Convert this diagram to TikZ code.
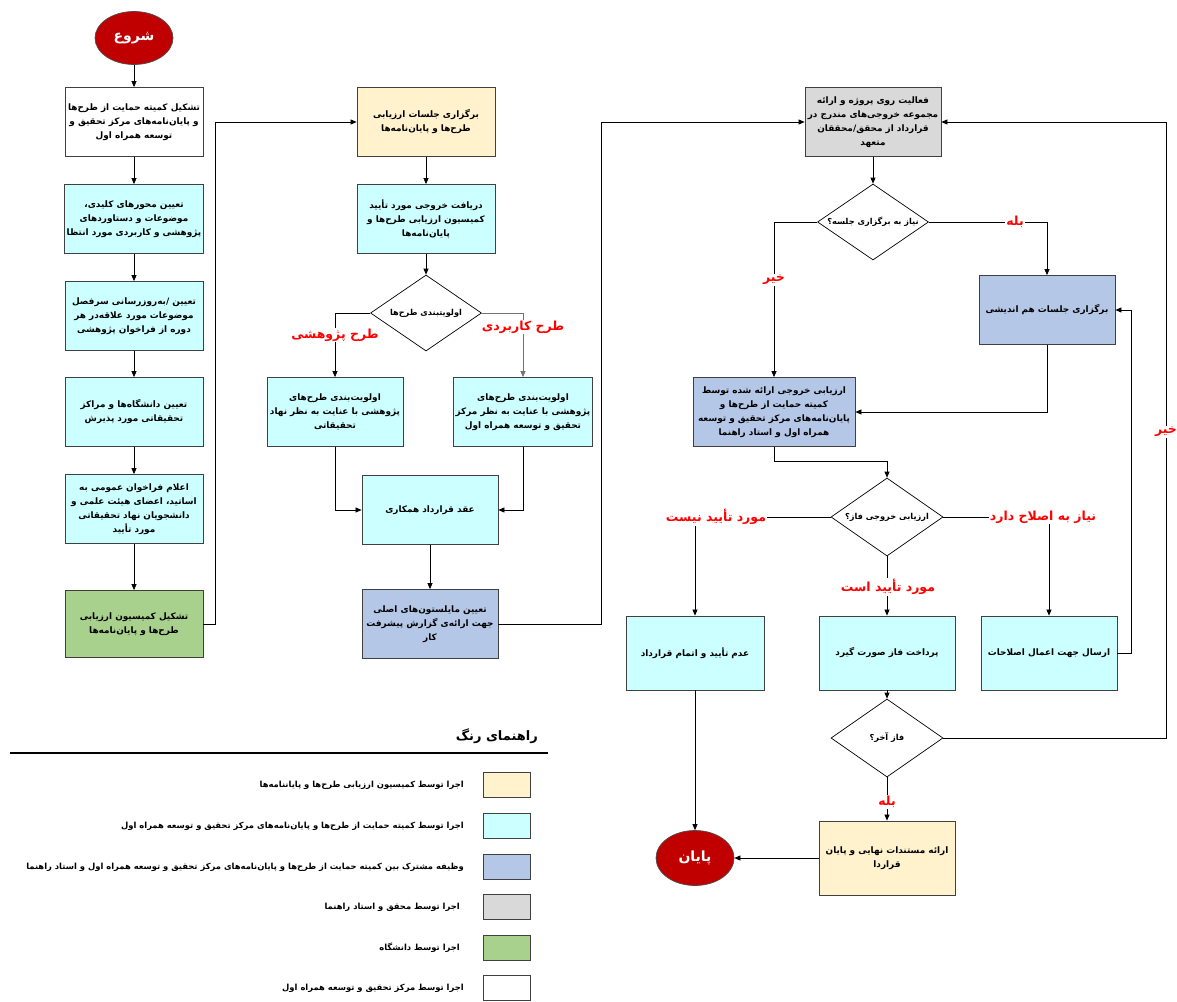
\documentclass[tikz,border=0pt]{standalone}
\usepackage{fontspec}
\usetikzlibrary{positioning,arrows.meta,shapes.geometric}
\newfontfamily\fafont[Script=Arabic]{DejaVu Sans}
\TeXXeTstate=1
\newcommand{\fa}[1]{\beginR#1\endR}
\definecolor{cyanbox}{HTML}{CCFFFF}
\definecolor{yellowbox}{HTML}{FFF2CC}
\definecolor{bluebox}{HTML}{B4C7E7}
\definecolor{greybox}{HTML}{D9D9D9}
\definecolor{greenbox}{HTML}{A9D18E}
\definecolor{termred}{HTML}{C00000}

\begin{document}
\begin{tikzpicture}[x=1pt, y=-1pt,
    procbox/.style={draw=black!75, line width=0.8pt, rectangle, minimum width=138pt, minimum height=69pt, inner sep=2pt, align=center, font=\fafont\fontsize{8.9}{14}\bfseries},
    decide/.style={draw, line width=0.7pt, diamond, aspect=1.45, fill=white, minimum width=111pt, minimum height=76pt, inner sep=0pt, font=\fafont\fontsize{8.2}{10}\bfseries},
    terminal/.style={ellipse, draw=black!70, line width=0.7pt, fill=termred, text=white, minimum width=78pt, minimum height=53pt, font=\fafont\fontsize{14}{16}\bfseries},
    lab/.style={text=red, fill=white, inner sep=1pt, font=\fafont\fontsize{12.5}{15}\bfseries},
    arr/.style={-{Triangle[length=6pt,width=5pt]}, line width=0.7pt},
    swatch/.style={draw=black!75, line width=0.8pt, minimum width=47pt, minimum height=25pt, inner sep=0pt},
    legtext/.style={anchor=east, inner sep=0pt, font=\fafont\fontsize{8.4}{10}\bfseries}]
    \useasboundingbox (0,0) rectangle (1177,1001);

    % Left column
    \node[terminal] (start) at (134,38) {\fa{شروع}};
    \node[procbox, fill=white] (b1) at (134,122) {\fa{تشکیل کمیته حمایت از طرح‌ها}\\\fa{و پایان‌نامه‌های مرکز تحقیق و}\\\fa{توسعه همراه اول}};
    \node[procbox, fill=cyanbox] (b2) at (134,219) {\fa{تعیین محورهای کلیدی،}\\\fa{موضوعات و دستاوردهای}\\\fa{پژوهشی و کاربردی مورد انتظا}};
    \node[procbox, fill=cyanbox] (b3) at (134,316) {\fa{تعیین /به‌روزرسانی سرفصل}\\\fa{موضوعات مورد علاقه‌در هر}\\\fa{دوره از فراخوان پژوهشی}};
    \node[procbox, fill=cyanbox] (b4) at (134,412) {\fa{تعیین دانشگاه‌ها و مراکز}\\\fa{تحقیقاتی مورد پذیرش}};
    \node[procbox, fill=cyanbox] (b5) at (134,509) {\fa{اعلام فراخوان عمومی به}\\\fa{اساتید، اعضای هیئت علمی و}\\\fa{دانشجویان نهاد تحقیقاتی}\\\fa{مورد تأیید}};
    \node[procbox, fill=greenbox, minimum height=67pt] (b6) at (134,624) {\fa{تشکیل کمیسیون ارزیابی}\\\fa{طرح‌ها و پایان‌نامه‌ها}};

    % Middle column
    \node[procbox, fill=yellowbox] (b7) at (426,122) {\fa{برگزاری جلسات ارزیابی}\\\fa{طرح‌ها و پایان‌نامه‌ها}};
    \node[procbox, fill=cyanbox] (b8) at (426,219) {\fa{دریافت خروجی مورد تأیید}\\\fa{کمیسیون ارزیابی طرح‌ها و}\\\fa{پایان‌نامه‌ها}};
    \node[decide] (d1) at (426,313) {\fa{اولویتبندی طرح‌ها}};
    \node[procbox, fill=cyanbox, minimum width=136pt] (b9) at (335,412) {\fa{اولویت‌بندی طرح‌های}\\\fa{پژوهشی با عنایت به نظر نهاد}\\\fa{تحقیقاتی}};
    \node[procbox, fill=cyanbox, minimum width=136pt] (b10) at (523,412) {\fa{اولویت‌بندی طرح‌های}\\\fa{پژوهشی با عنایت به نظر مرکز}\\\fa{تحقیق و توسعه همراه اول}};
    \node[procbox, fill=cyanbox, minimum width=136pt] (b11) at (430,510) {\fa{عقد قرارداد همکاری}};
    \node[procbox, fill=bluebox, minimum width=136pt] (b12) at (430,624) {\fa{تعیین مایلستون‌های اصلی}\\\fa{جهت ارائه‌ی گزارش پیشرفت}\\\fa{کار}};

    % Right part
    \node[procbox, fill=greybox, minimum width=136pt] (b13) at (873,122) {\fa{فعالیت روی پروژه و ارائه}\\\fa{مجموعه خروجی‌های مندرج در}\\\fa{قرارداد از محقق/محققان}\\\fa{متعهد}};
    \node[decide] (d2) at (873,222) {\fa{نیاز به برگزاری جلسه؟}};
    \node[procbox, fill=bluebox, minimum width=136pt] (b15) at (1047,310) {\fa{برگزاری جلسات هم اندیشی}};
    \node[procbox, fill=bluebox, minimum width=162pt] (b14) at (774,412) {\fa{ارزیابی خروجی ارائه شده توسط}\\\fa{کمیته حمایت از طرح‌ها و}\\\fa{پایان‌نامه‌های مرکز تحقیق و توسعه}\\\fa{همراه اول و  استاد راهنما}};
    \node[decide, minimum width=112pt, minimum height=78pt] (d3) at (887,517) {\fa{ارزیابی خروجی فاز؟}};
    \node[procbox, fill=cyanbox, minimum height=74pt] (b16) at (695,653) {\fa{عدم تأیید و اتمام قرارداد}};
    \node[procbox, fill=cyanbox, minimum width=136pt, minimum height=74pt] (b17) at (887,653) {\fa{پرداخت فاز صورت گیرد}};
    \node[procbox, fill=cyanbox, minimum width=136pt, minimum height=74pt] (b18) at (1049,653) {\fa{ارسال جهت اعمال اصلاحات}};
    \node[decide, minimum width=112pt, minimum height=78pt] (d4) at (887,738) {\fa{فاز آخر؟}};
    \node[procbox, fill=yellowbox, minimum width=136pt, minimum height=74pt] (b19) at (887,858) {\fa{ارائه مستندات نهایی و پایان}\\\fa{قراردا}};
    \node[terminal, minimum height=55pt] (end) at (695,858) {\fa{پایان}};

    % Arrows - left column
    \draw[arr] (start) -- (b1);
    \draw[arr] (b1) -- (b2);
    \draw[arr] (b2) -- (b3);
    \draw[arr] (b3) -- (b4);
    \draw[arr] (b4) -- (b5);
    \draw[arr] (b5) -- (b6);
    \draw[arr] (b6.east) -- ++(12,0) |- (b7.west);

    % Arrows - middle column
    \draw[arr] (b7) -- (b8);
    \draw[arr] (b8) -- (d1);
    \draw[arr] (d1.west) -| (b9.north);
    \draw[arr, draw=black!55] (d1.east) -| (b10.north);
    \draw[arr] (b9.south) |- (b11.west);
    \draw[arr] (b10.south) |- (b11.east);
    \draw[arr] (b11) -- (b12);
    \draw[arr] (b12.east) -- ++(103,0) |- (b13.west);

    % Arrows - right part
    \draw[arr] (b13) -- (d2);
    \draw[arr] (d2.west) -| (b14.north);
    \draw[arr] (d2.east) -| (b15.north);
    \draw[arr] (b15.south) |- (b14.east);
    \draw[arr] (b14.south) -- ++(0,14) -| (d3.north);
    \draw[arr] (d3.west) -| (b16.north);
    \draw[arr] (d3.east) -| (b18.north);
    \draw[arr] (d3) -- (b17);
    \draw[arr] (b18.east) -- ++(14,0) |- (b15.east);
    \draw[arr] (b17) -- (d4);
    \draw[arr] (d4.east) -- ++(223,0) |- (b13.east);
    \draw[arr] (d4) -- (b19);
    \draw[arr] (b19) -- (end);
    \draw[arr] (b16) -- (end);

    % Branch labels
    \node[lab] (lpaj) at (335,335) {\fa{طرح پژوهشی}};
    \node[lab] (lkar) at (523,327) {\fa{طرح کاربردی}};
    \node[lab] (lno1) at (774,280) {\fa{خیر}};
    \node[lab] (lyes1) at (1015,222) {\fa{بله}};
    \node[lab] (lrej) at (716,517) {\fa{مورد تأیید نیست}};
    \node[lab] (lfix) at (1043,517) {\fa{نیاز به اصلاح دارد}};
    \node[lab] (lok) at (888,587) {\fa{مورد تأیید است}};
    \node[lab] (lno2) at (1166,432) {\fa{خیر}};
    \node[lab] (lyes2) at (887,802) {\fa{بله}};

    % Colour legend
    \node[anchor=east, inner sep=0pt, font=\fafont\fontsize{13}{15}\bfseries] (legtitle) at (538,736) {\fa{راهنمای رنگ}};
    \draw[line width=2pt] (10,753) -- (548,753);
    \node[swatch, fill=yellowbox] (sw1) at (507,785) {};
    \node[swatch, fill=cyanbox] (sw2) at (507,826) {};
    \node[swatch, fill=bluebox] (sw3) at (507,867) {};
    \node[swatch, fill=greybox] (sw4) at (507,907) {};
    \node[swatch, fill=greenbox] (sw5) at (507,948) {};
    \node[swatch, fill=white] (sw6) at (507,988) {};
    \node[legtext] (lg1) at (464,785) {\fa{اجرا توسط کمیسیون ارزیابی طرح‌ها و پایاننامه‌ها}};
    \node[legtext] (lg2) at (464,826) {\fa{اجرا توسط کمیته حمایت از طرح‌ها و پایان‌نامه‌های مرکز تحقیق و توسعه همراه اول}};
    \node[legtext] (lg3) at (464,867) {\fa{وظیفه مشترک بین کمیته حمایت از طرح‌ها و پایان‌نامه‌های مرکز تحقیق و توسعه همراه اول و استاد راهنما}};
    \node[legtext] (lg4) at (460,907) {\fa{اجرا توسط محقق و استاد راهنما}};
    \node[legtext] (lg5) at (460,948) {\fa{اجرا توسط دانشگاه}};
    \node[legtext] (lg6) at (464,988) {\fa{اجرا توسط مرکز تحقیق و توسعه همراه اول}};
\end{tikzpicture}
\end{document}
